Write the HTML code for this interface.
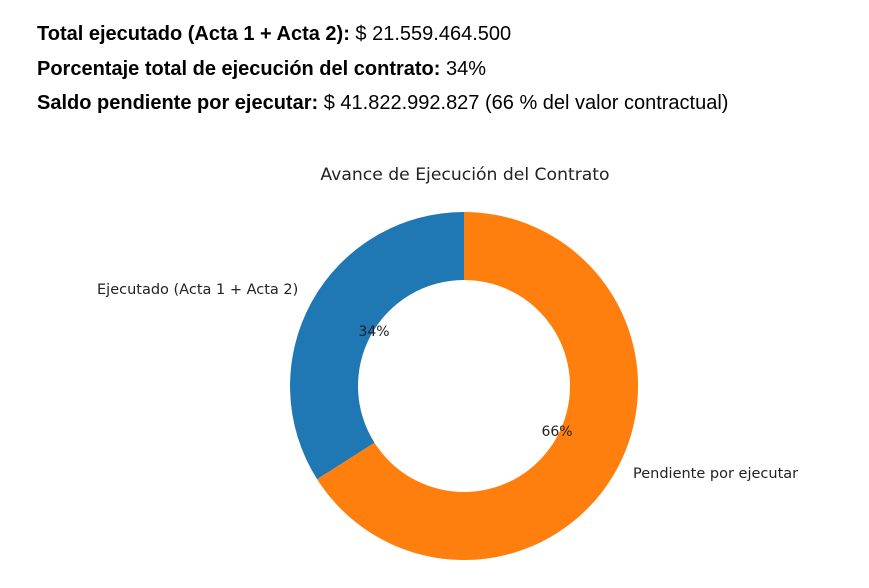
<!DOCTYPE html>
<html><head><meta charset="utf-8"><style>
body{margin:0;background:#fff;width:869px;height:588px;overflow:hidden;font-family:"Liberation Sans",sans-serif;}
.l{position:absolute;left:37px;font-size:20px;color:#000;white-space:nowrap}
</style></head><body>
<div class="l" style="top:23px"><b>Total ejecutado (Acta 1 + Acta 2):</b> $ 21.559.464.500</div>
<div class="l" style="top:58px"><b>Porcentaje total de ejecución del contrato:</b> 34%</div>
<div class="l" style="top:92px"><b>Saldo pendiente por ejecutar:</b> $ 41.822.992.827 (66 % del valor contractual)</div>
<svg width="869" height="588" style="position:absolute;left:0;top:0" font-family="DejaVu Sans, sans-serif">
<text x="465" y="180" font-size="17.2" text-anchor="middle" fill="#222">Avance de Ejecución del Contrato</text>
<path d="M464,212 A174,174 0 0 0 317.1,479.2 L374.5,442.8 A106,106 0 0 1 464,280 Z" fill="#1f77b4"/>
<path d="M464,212 A174,174 0 1 1 317.1,479.2 L374.5,442.8 A106,106 0 1 0 464,280 Z" fill="#ff7f0e"/>
<text x="97" y="294" font-size="14.5" fill="#222">Ejecutado (Acta 1 + Acta 2)</text>
<text x="633" y="478" font-size="14.5" fill="#222">Pendiente por ejecutar</text>
<text x="374" y="336" font-size="14" text-anchor="middle" fill="#222">34%</text>
<text x="557" y="436" font-size="14" text-anchor="middle" fill="#222">66%</text>
</svg>
</body></html>
